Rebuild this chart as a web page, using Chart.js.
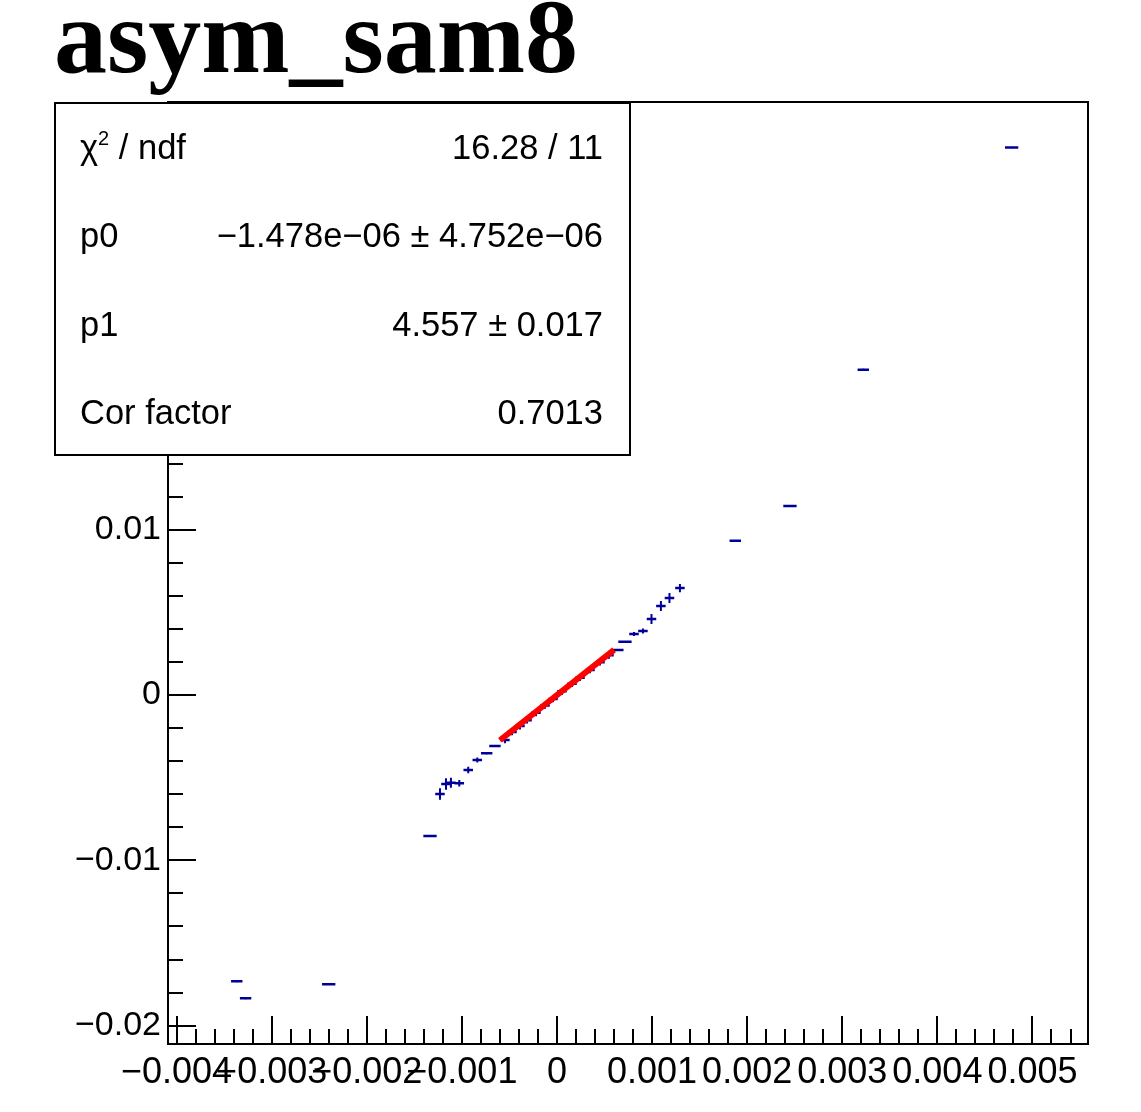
<!DOCTYPE html>
<html lang="en">
<head>
  <meta charset="UTF-8">
  <title>asym_sam8</title>
  <script src="https://cdn.jsdelivr.net/npm/chart.js"></script>
  <style>
    html, body { margin: 0; padding: 0; background: #fff; }
    #wrap { position: relative; width: 1141px; height: 1112px; overflow: hidden; }
    #plot { position: absolute; left: 0; top: 0; }
    h1 { position: absolute; left: 54px; top: -16px; margin: 0; font: bold 106px/106px "Liberation Serif", serif; color: #000; }
    #stats { position: absolute; left: 54px; top: 102px; width: 577px; height: 354px; box-sizing: border-box;
             border: 2px solid #000; background: #fff; font: 34.5px/34px "Liberation Sans", Arial, sans-serif; color: #000; }
    #stats .row { position: absolute; left: 24px; right: 26px; display: flex; justify-content: space-between; white-space: nowrap; }
    #stats sup { font-size: 20px; line-height: 0; vertical-align: 14px; }
  </style>
</head>
<body>
  <div id="wrap">
    <canvas id="plot" width="1141" height="1112"></canvas>
    <h1>asym_sam8</h1>
    <div id="stats"></div>
  </div>
  <script>
    // graph points (x, y) with their errors
    const xVals = [-0.003367, -0.003274, -0.00240, -0.001335, -0.00123, -0.001167, -0.001115, -0.001027, -0.000933, -0.000838, -0.000739, -0.000652,
                   -0.000547, -0.000473, -0.000389, -0.000315, -0.000221, -0.000126, -0.000042, 0.000053, 0.000158, 0.000242, 0.000347, 0.000452, 0.000547,
                   0.00064, 0.000715, 0.00081, 0.000904, 0.000994, 0.001093, 0.001183, 0.001293, 0.001875, 0.00245, 0.003221, 0.004781];
    const yVals = [-0.01732, -0.01835, -0.01749, -0.00853, -0.00599, -0.00538, -0.00531, -0.00534, -0.00454, -0.00393, -0.00353, -0.00309,
                   -0.00272, -0.00224, -0.00188, -0.00152, -0.00108, -0.00063, -0.00024, 0.00022, 0.00068, 0.00105, 0.00152, 0.00198, 0.00240,
                   0.00272, 0.00322, 0.00369, 0.00387, 0.00460, 0.00538, 0.00587, 0.00647, 0.00933, 0.01143, 0.01968, 0.03312];
    const xErrs = [0.00006, 0.00006, 0.00007, 0.00007, 0.00005, 0.00005, 0.00005, 0.00005, 0.00005, 0.00005, 0.00006, 0.00006,
                   0.00005, 0.00005, 0.00005, 0.00005, 0.00005, 0.00005, 0.00005, 0.00005, 0.00005, 0.00005, 0.00005, 0.00005, 0.00005,
                   0.00006, 0.00007, 0.00005, 0.00005, 0.00005, 0.00005, 0.00005, 0.00005, 0.00006, 0.00007, 0.00006, 0.00007];
    const yErrs = [0.00005, 0.00005, 0.00005, 0.00005, 0.00035, 0.00035, 0.0003, 0.0002, 0.0002, 0.00015, 0.00005, 0.00005,
                   0.0002, 0.0002, 0.0002, 0.0002, 0.0002, 0.0002, 0.0002, 0.0002, 0.0002, 0.0002, 0.0002, 0.0002, 0.0002,
                   0.00005, 0.00005, 0.00012, 0.00015, 0.0003, 0.0003, 0.0003, 0.00025, 0.00005, 0.00005, 0.00005, 0.00005];

    // fit result (pol1) and its range
    const p0 = -1.478e-06;
    const p1 = 4.557;
    const fitRange = [-0.0006, 0.0006];

    // axes
    const xMin = -0.00409, xMax = 0.005584;
    const yMin = -0.02111, yMax = 0.03587;
    const xTicks = [-0.004, -0.003, -0.002, -0.001, 0, 0.001, 0.002, 0.003, 0.004, 0.005];
    const xTickLabels = ['\u22120.004', '\u22120.003', '\u22120.002', '\u22120.001', '0', '0.001', '0.002', '0.003', '0.004', '0.005'];
    const yTicks = [-0.02, -0.01, 0, 0.01, 0.02, 0.03];
    const yTickLabels = ['\u22120.02', '\u22120.01', '0', '0.01', '0.02', '0.03'];

    // stats box
    const statLabels = ['\u03c7<sup>2</sup> / ndf', 'p0', 'p1', 'Cor factor'];
    const statValues = ['16.28 / 11', '\u22121.478e\u221206 \u00b1 4.752e\u221206', '4.557 \u00b1 0.017', '0.7013'];

    const statsBox = document.getElementById('stats');
    const rowTops = [26, 114, 203, 291];
    statLabels.forEach((lab, i) => {
      const row = document.createElement('div');
      row.className = 'row';
      row.style.top = rowTops[i] + 'px';
      row.innerHTML = '<span>' + lab + '</span><span>' + statValues[i] + '</span>';
      statsBox.appendChild(row);
    });

    // error bars as broken line segments
    const hBars = [], vBars = [];
    xVals.forEach((x, i) => {
      const y = yVals[i];
      hBars.push({ x: x - xErrs[i], y: y }, { x: x + xErrs[i], y: y }, { x: x, y: null });
      vBars.push({ x: x, y: y - yErrs[i] }, { x: x, y: y + yErrs[i] }, { x: x, y: null });
    });
    const fitLine = fitRange.map(x => ({ x: x, y: p0 + p1 * x }));

    const navy = '#000099';

    // ROOT style frame with inward ticks
    const rootAxes = {
      id: 'rootAxes',
      afterDraw(chart) {
        const c = chart.ctx, a = chart.chartArea;
        const sx = chart.scales.x, sy = chart.scales.y;
        c.save();
        c.strokeStyle = '#000';
        c.lineWidth = 2;
        c.strokeRect(a.left, a.top, a.right - a.left, a.bottom - a.top);
        c.beginPath();
        const xStep = 0.0002, yStep = 0.002;
        for (let k = Math.ceil(xMin / xStep); k <= Math.floor(xMax / xStep); k++) {
          const px = Math.round(sx.getPixelForValue(k * xStep));
          const len = k % 5 === 0 ? 28 : 15;
          c.moveTo(px, a.bottom);
          c.lineTo(px, a.bottom - len);
        }
        for (let k = Math.ceil(yMin / yStep); k <= Math.floor(yMax / yStep); k++) {
          const py = Math.round(sy.getPixelForValue(k * yStep));
          const len = k % 5 === 0 ? 28 : 15;
          c.moveTo(a.left, py);
          c.lineTo(a.left + len, py);
        }
        c.stroke();
        c.restore();
      }
    };

    new Chart(document.getElementById('plot'), {
      type: 'scatter',
      data: {
        datasets: [
          { label: 'fit', data: fitLine, showLine: true, borderColor: '#ff0000', borderWidth: 6, pointRadius: 0, fill: false },
          { label: 'x errors', data: hBars, showLine: true, borderColor: navy, borderWidth: 2.5, pointRadius: 0, fill: false, spanGaps: false },
          { label: 'y errors', data: vBars, showLine: true, borderColor: navy, borderWidth: 2, pointRadius: 0, fill: false, spanGaps: false }
        ]
      },
      options: {
        responsive: false,
        animation: false,
        layout: { padding: { left: 0, top: 102, right: 53, bottom: 0 } },
        plugins: { legend: { display: false }, tooltip: { enabled: false }, title: { display: false } },
        scales: {
          x: {
            type: 'linear', min: xMin, max: xMax,
            grid: { display: false, drawTicks: false }, border: { display: false },
            afterBuildTicks: s => { s.ticks = xTicks.map(v => ({ value: v })); },
            afterFit: s => { s.height = 68; },
            ticks: { autoSkip: false, maxRotation: 0, minRotation: 0, padding: 7, color: '#000',
                     font: { family: 'Liberation Sans', size: 36 },
                     callback: (v, i) => xTickLabels[i] }
          },
          y: {
            type: 'linear', min: yMin, max: yMax,
            grid: { display: false, drawTicks: false }, border: { display: false },
            afterBuildTicks: s => { s.ticks = yTicks.map(v => ({ value: v })); },
            afterFit: s => { s.width = 168; },
            ticks: { autoSkip: false, padding: 7, color: '#000',
                     font: { family: 'Liberation Sans', size: 34 },
                     callback: (v, i) => yTickLabels[i] }
          }
        }
      },
      plugins: [rootAxes]
    });
  </script>
</body>
</html>
